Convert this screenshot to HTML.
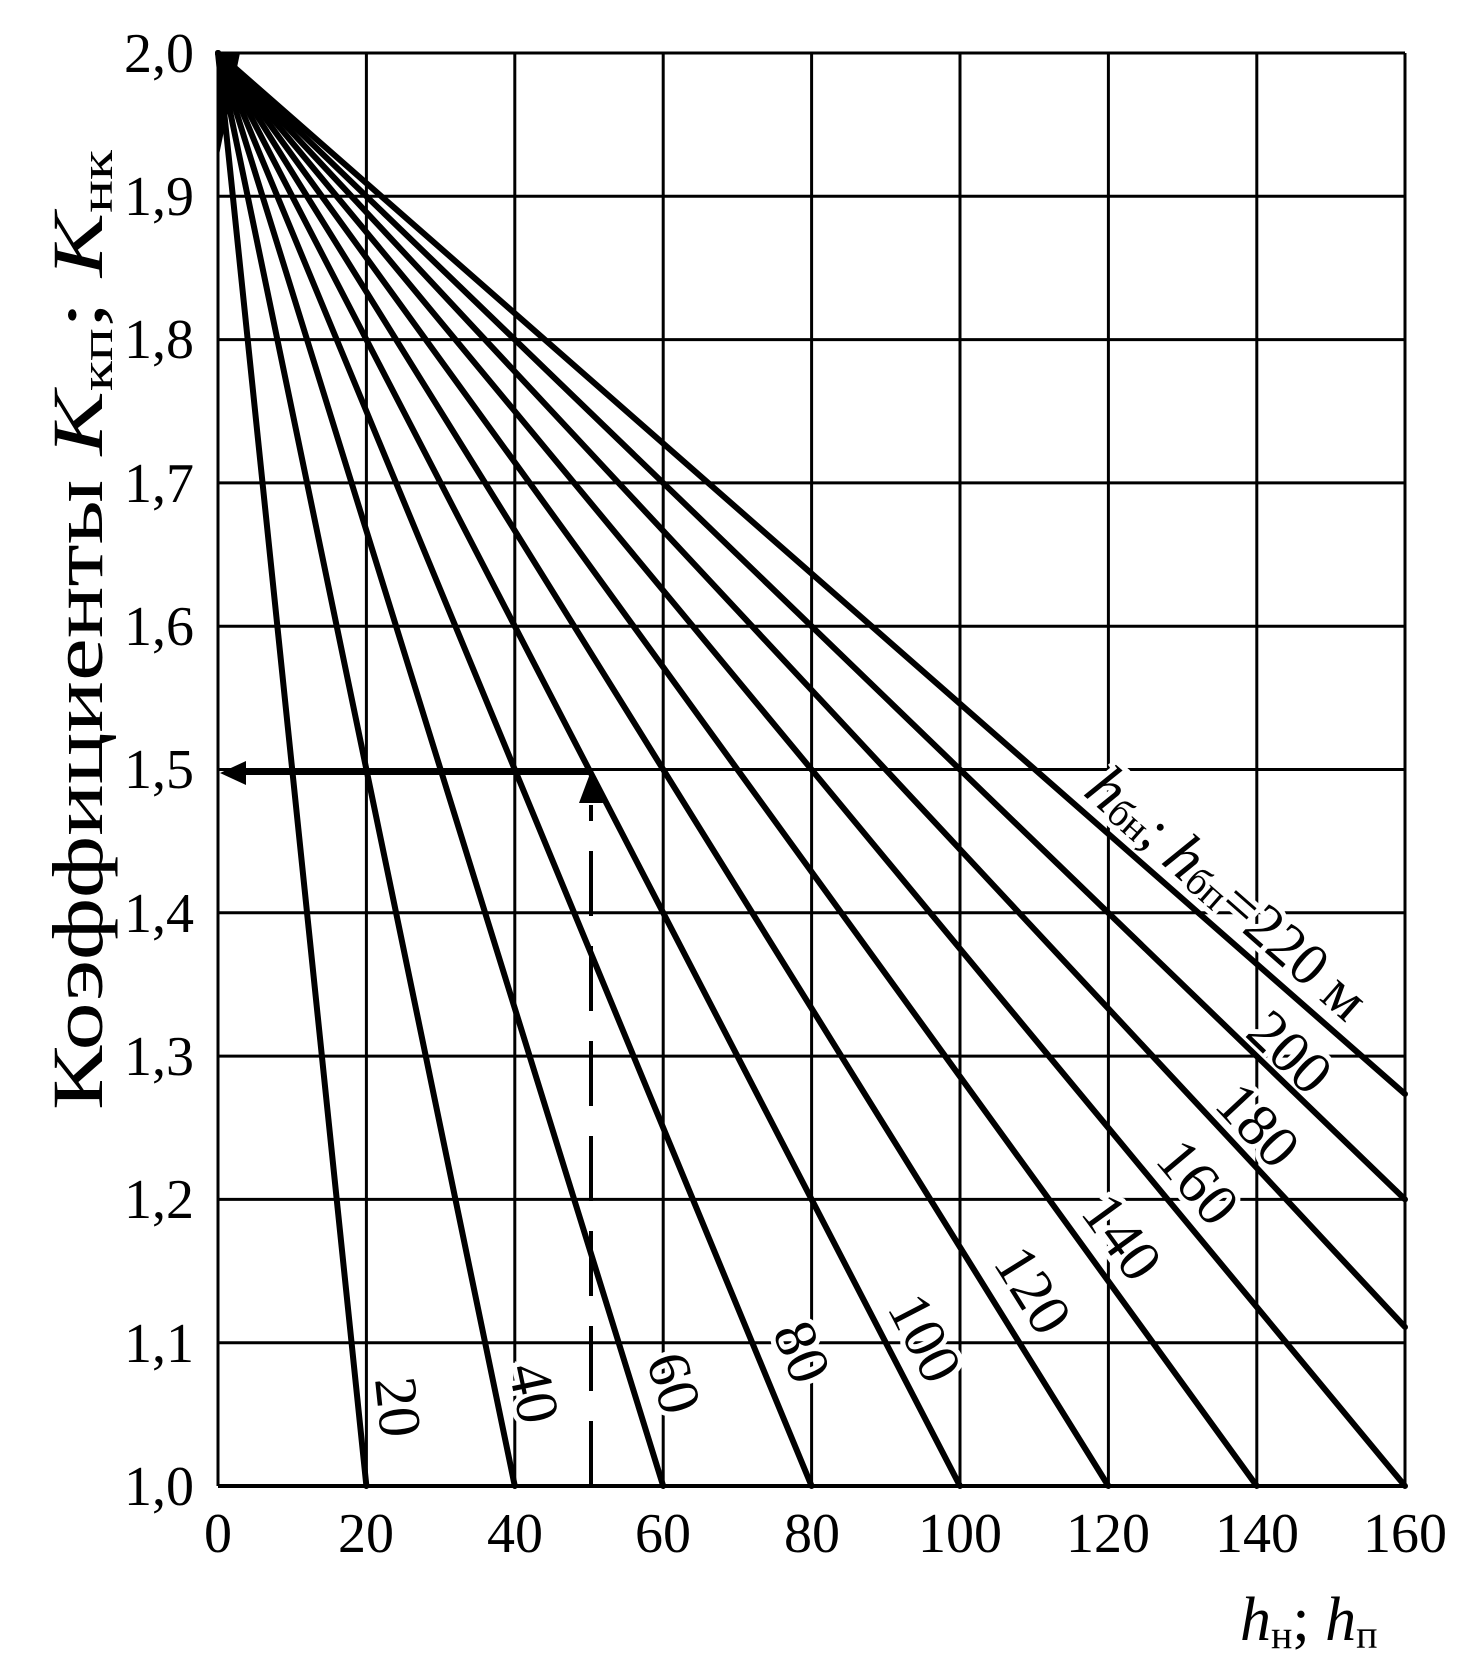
<!DOCTYPE html>
<html><head><meta charset="utf-8"><style>html,body{margin:0;padding:0;background:#fff}svg{display:block}</style></head>
<body>
<svg width="1465" height="1663" viewBox="0 0 1465 1663" xmlns="http://www.w3.org/2000/svg" font-family="'Liberation Serif', serif">
<rect width="1465" height="1663" fill="#fff"/>
<g stroke="#000" stroke-width="3">
<line x1="218" y1="53" x2="218" y2="1486"/>
<line x1="366.4" y1="53" x2="366.4" y2="1486"/>
<line x1="514.8" y1="53" x2="514.8" y2="1486"/>
<line x1="663.2" y1="53" x2="663.2" y2="1486"/>
<line x1="811.6" y1="53" x2="811.6" y2="1486"/>
<line x1="960" y1="53" x2="960" y2="1486"/>
<line x1="1108.4" y1="53" x2="1108.4" y2="1486"/>
<line x1="1256.8" y1="53" x2="1256.8" y2="1486"/>
<line x1="1405" y1="53" x2="1405" y2="1486"/>
<line x1="218" y1="53" x2="1405" y2="53"/>
<line x1="218" y1="196.3" x2="1405" y2="196.3"/>
<line x1="218" y1="339.6" x2="1405" y2="339.6"/>
<line x1="218" y1="482.9" x2="1405" y2="482.9"/>
<line x1="218" y1="626.2" x2="1405" y2="626.2"/>
<line x1="218" y1="769.5" x2="1405" y2="769.5"/>
<line x1="218" y1="912.8" x2="1405" y2="912.8"/>
<line x1="218" y1="1056.1" x2="1405" y2="1056.1"/>
<line x1="218" y1="1199.4" x2="1405" y2="1199.4"/>
<line x1="218" y1="1342.7" x2="1405" y2="1342.7"/>
<line x1="218" y1="1486" x2="1405" y2="1486" stroke-width="4"/>
</g>
<g font-size="60" fill="#000" stroke="#fff" stroke-width="10" paint-order="stroke" text-anchor="middle" dominant-baseline="central">
<text transform="translate(398,1407) rotate(84)">20</text>
<text transform="translate(534,1393) rotate(78)">40</text>
<text transform="translate(674,1383) rotate(73)">60</text>
<text transform="translate(802,1352) rotate(67.5)">80</text>
<text transform="translate(925,1338) rotate(62.6)">100</text>
<text transform="translate(1033,1290) rotate(58)">120</text>
<text transform="translate(1122,1237) rotate(54)">140</text>
<text transform="translate(1198,1182) rotate(50)">160</text>
<text transform="translate(1258,1125) rotate(47)">180</text>
<text transform="translate(1290,1052) rotate(44)">200</text>
<text transform="translate(1228,893) rotate(41.3)" textLength="350" lengthAdjust="spacingAndGlyphs"><tspan font-style="italic" font-size="64">h</tspan><tspan font-size="40" dy="10">бн</tspan><tspan dy="-10">; </tspan><tspan font-style="italic" font-size="64">h</tspan><tspan font-size="40" dy="10">бп</tspan><tspan dy="-10">=220 м</tspan></text>
</g>
<g stroke="#000" stroke-width="6" stroke-linecap="round">
<line x1="218" y1="53" x2="366.4" y2="1486"/>
<line x1="218" y1="53" x2="514.8" y2="1486"/>
<line x1="218" y1="53" x2="663.2" y2="1486"/>
<line x1="218" y1="53" x2="811.6" y2="1486"/>
<line x1="218" y1="53" x2="960" y2="1486"/>
<line x1="218" y1="53" x2="1108.4" y2="1486"/>
<line x1="218" y1="53" x2="1256.8" y2="1486"/>
<line x1="218" y1="53" x2="1405" y2="1486"/>
<line x1="218" y1="53" x2="1405" y2="1327"/>
<line x1="218" y1="53" x2="1405" y2="1199.4"/>
<line x1="218" y1="53" x2="1405" y2="1094"/>
</g>
<polygon points="218,53 240,53 218,160" fill="#000"/>
<line x1="240" y1="773" x2="590" y2="773" stroke="#000" stroke-width="4"/>
<polygon points="220,773 246,761 246,785" fill="#000"/>
<line x1="591" y1="1486" x2="591" y2="805" stroke="#000" stroke-width="4" stroke-dasharray="65,30"/>
<polygon points="591,771 579,803 603,803" fill="#000"/>
<g font-size="56" text-anchor="end" fill="#000">
<text x="194" y="72">2,0</text>
<text x="194" y="215">1,9</text>
<text x="194" y="358">1,8</text>
<text x="194" y="502">1,7</text>
<text x="194" y="645">1,6</text>
<text x="194" y="788">1,5</text>
<text x="194" y="932">1,4</text>
<text x="194" y="1075">1,3</text>
<text x="194" y="1218">1,2</text>
<text x="194" y="1362">1,1</text>
<text x="194" y="1505">1,0</text>
</g>
<g font-size="56" text-anchor="middle" fill="#000">
<text x="218" y="1552">0</text>
<text x="366" y="1552">20</text>
<text x="515" y="1552">40</text>
<text x="663" y="1552">60</text>
<text x="812" y="1552">80</text>
<text x="960" y="1552">100</text>
<text x="1108" y="1552">120</text>
<text x="1257" y="1552">140</text>
<text x="1405" y="1552">160</text>
</g>
<text x="1240" y="1640" font-size="62" fill="#000"><tspan font-style="italic">h</tspan><tspan font-size="40" dy="8">н</tspan><tspan dy="-8">; </tspan><tspan font-style="italic">h</tspan><tspan font-size="40" dy="8">п</tspan></text>
<text transform="translate(102,1110) rotate(-90)" font-size="72" fill="#000" textLength="960" lengthAdjust="spacingAndGlyphs">Коэффициенты <tspan font-style="italic">K</tspan><tspan font-size="46" dy="10">кп</tspan><tspan dy="-10">; </tspan><tspan font-style="italic">K</tspan><tspan font-size="46" dy="10">нк</tspan></text>
</svg>
</body></html>
